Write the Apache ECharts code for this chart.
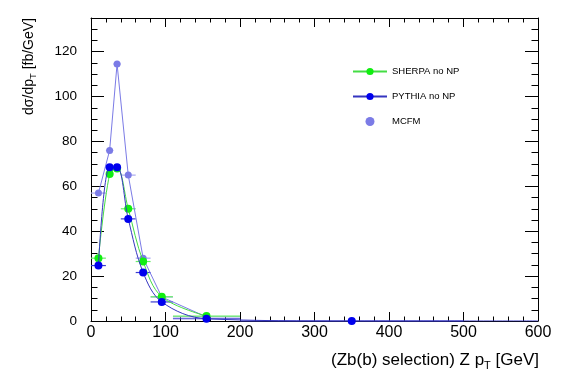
<!DOCTYPE html>
<html>
<head>
<meta charset="utf-8">
<script src="https://cdn.jsdelivr.net/npm/echarts@6/dist/echarts.min.js"></script>
<style>html,body{margin:0;padding:0;background:#fff;}#c{width:567px;height:384px;}</style>
</head>
<body>
<div id="c"></div>
<script>
// bins (Z pT, GeV)
const binCenters = [10, 25, 35, 50, 70, 95, 155, 350];
const binLow     = [0, 20, 30, 40, 60, 80, 110, 200];
const binHigh    = [20, 30, 40, 60, 80, 110, 200, 500];
// dsigma/dpT [fb/GeV]
const sherpa = [28, 65.5, 68, 50, 26.5, 10.8, 2.2];
const pythia = [24.7, 68.5, 68.5, 45.5, 21.6, 8.5, 1.0, 0];
const mcfm   = [57, 76, 114.5, 65, 28, 10.7, 1.8];
const xTicks = [0, 100, 200, 300, 400, 500, 600];
const yTicks = [0, 20, 40, 60, 80, 100, 120];

const FONT = 'Liberation Sans, Arial, Helvetica, sans-serif';
const cGreen = '#11ee11', cGreenLine = '#44dd44';
const cBlue = '#0000ee', cBlueLine = '#3535c0';
const cMcfm = '#7b7be6';

function pts(vals) { return vals.map((v, i) => [binCenters[i], v]); }
function errData(vals) { return vals.map((v, i) => [binLow[i], binHigh[i], v]); }
function errSeries(name, vals, color, z) {
  return {
    type: 'custom', name: name + ' err', z: z, silent: true,
    xAxisIndex: 0, yAxisIndex: 0,
    data: errData(vals),
    renderItem: function (params, api) {
      const a = api.coord([api.value(0), api.value(2)]);
      const b = api.coord([api.value(1), api.value(2)]);
      return { type: 'line', shape: { x1: a[0], y1: a[1], x2: b[0], y2: b[1] },
               style: { stroke: color, lineWidth: 1.2 } };
    },
    encode: { x: [0, 1], y: 2 }
  };
}

const pythiaData = pts(pythia);
pythiaData.push({ value: [600, 0], symbol: 'none' });

const chart = echarts.init(document.getElementById('c'), null, { renderer: 'canvas' });
const xBase = {
  type: 'value', min: xTicks[0], max: xTicks[xTicks.length - 1], interval: 100,
  axisLine: { show: true, onZero: false, lineStyle: { color: '#000', width: 1 } },
  axisTick: { show: true, inside: true, length: 9, lineStyle: { color: '#000' } },
  minorTick: { show: true, splitNumber: 5, length: 4.5, lineStyle: { color: '#000' } },
  splitLine: { show: false }
};
const yBase = {
  type: 'value', min: yTicks[0], max: 135, interval: 20,
  axisLine: { show: true, onZero: false, lineStyle: { color: '#000', width: 1 } },
  axisTick: { show: true, inside: true, length: 13, lineStyle: { color: '#000' } },
  minorTick: { show: true, splitNumber: 4, length: 6.5, lineStyle: { color: '#000' } },
  splitLine: { show: false }
};

chart.setOption({
  animation: false,
  backgroundColor: '#fff',
  textStyle: { fontFamily: FONT },
  grid: { left: 91, right: 29, top: 18, bottom: 63, containLabel: false },
  xAxis: [
    Object.assign({}, xBase, { position: 'bottom',
      axisLabel: { show: true, color: '#000', fontSize: 16, fontFamily: FONT, margin: 4 } }),
    Object.assign({}, xBase, { position: 'top', axisLabel: { show: false } })
  ],
  yAxis: [
    Object.assign({}, yBase, { position: 'left',
      axisLabel: { show: true, color: '#000', fontSize: 13.5, fontFamily: FONT, margin: 14, showMaxLabel: false } }),
    Object.assign({}, yBase, { position: 'right', axisLabel: { show: false } })
  ],
  legend: {
    orient: 'vertical', left: 347, top: 61.5, itemWidth: 34, itemHeight: 9, itemGap: 15,
    textStyle: { fontSize: 9.5, color: '#000', fontFamily: FONT, padding: [0, 0, 0, 0] },
    data: ['SHERPA no NP', 'PYTHIA no NP', { name: 'MCFM', icon: 'circle' }]
  },
  graphic: [
    { type: 'text', x: 539, y: 350, style: {
        text: '(Zb(b) selection) Z p{s|T} [GeV]', align: 'right', verticalAlign: 'top',
        font: '17px ' + FONT, fill: '#000',
        rich: { s: { fontSize: 11, fontFamily: FONT, fill: '#000', padding: [10, 0, 0, 0] } } } },
    { type: 'text', x: 29, y: 18, rotation: Math.PI / 2, style: {
        text: 'dσ/dp{s|T} [fb/GeV]', align: 'right', verticalAlign: 'middle',
        font: '14px ' + FONT, fill: '#000',
        rich: { s: { fontSize: 9.5, fontFamily: FONT, fill: '#000', padding: [8, 0, 0, 0] } } } }
  ],
  series: [
    errSeries('MCFM', mcfm, '#a8a8ee', 1),
    errSeries('SHERPA no NP', sherpa, '#66ee66', 2),
    errSeries('PYTHIA no NP', pythia, '#3a3ad0', 3),
    { type: 'line', name: 'MCFM', data: pts(mcfm), z: 4,
      symbol: 'circle', symbolSize: 7, smooth: false,
      lineStyle: { color: cMcfm, width: 1 }, itemStyle: { color: cMcfm } },
    { type: 'line', name: 'SHERPA no NP', data: pts(sherpa), z: 5,
      symbol: 'circle', symbolSize: 8, smooth: 0.35,
      lineStyle: { color: cGreenLine, width: 1 }, itemStyle: { color: cGreen } },
    { type: 'line', name: 'PYTHIA no NP', data: pythiaData, z: 6,
      symbol: 'circle', symbolSize: 8, smooth: 0.35,
      lineStyle: { color: cBlueLine, width: 1 }, itemStyle: { color: cBlue } }
  ]
});
</script>
</body>
</html>
